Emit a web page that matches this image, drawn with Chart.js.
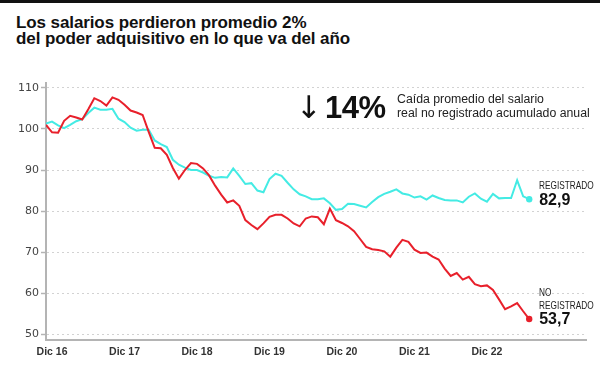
<!DOCTYPE html>
<html lang="es">
<head>
<meta charset="utf-8">
<title>Salarios</title>
<script src="https://cdn.jsdelivr.net/npm/chart.js@4.4.0/dist/chart.umd.min.js"></script>
<style>
  html, body { margin: 0; padding: 0; background: #fff; }
  #wrap { position: relative; width: 600px; height: 365px; overflow: hidden; font-family: "Liberation Sans", Arial, sans-serif; color: #111; }
  #topbar { position: absolute; left: 0; top: 0; width: 600px; height: 3px; background: #111; }
  #title { position: absolute; left: 16px; top: 15px; font-size: 17px; font-weight: bold; line-height: 16px; letter-spacing: -0.1px; }
  #chartBox { position: absolute; left: 0; top: 0; width: 600px; height: 365px; }
  #note { position: absolute; left: 298px; top: 92px; white-space: nowrap; }
  #note .arrow { position: absolute; left: -2px; top: -1px; font-family: "DejaVu Sans", sans-serif; font-size: 31px; line-height: 32px; }
  #note .big { position: absolute; left: 27px; top: 0; font-size: 31px; font-weight: bold; line-height: 32px; letter-spacing: -0.5px; }
  #note .txt { position: absolute; left: 99px; top: 1px; font-size: 12.3px; line-height: 13.5px; color: #222; }
  .endlab { position: absolute; transform: translateY(-100%); white-space: nowrap; }
  .endlab .cap { font-size: 11.5px; line-height: 12.5px; color: #222; transform: scaleX(0.72); transform-origin: left center; }
  .endlab .num { font-size: 16px; font-weight: bold; line-height: 16px; color: #111; }
</style>
</head>
<body>
<div id="wrap">
  <div id="topbar"></div>
  <div id="title">Los salarios perdieron promedio 2%<br>del poder adquisitivo en lo que va del año</div>
  <div id="chartBox"><canvas id="salaryChart"></canvas></div>
  <div id="note">
    <span class="arrow">↓</span><span class="big">14%</span>
    <span class="txt">Caída promedio del salario<br>real no registrado acumulado anual</span>
  </div>
  <div class="endlab" id="lab1"><div class="cap">REGISTRADO</div><div class="num">82,9</div></div>
  <div class="endlab" id="lab0"><div class="cap">NO</div><div class="cap">REGISTRADO</div><div class="num">53,7</div></div>
</div>
<script>
// meses nov-16 .. jul-23
const months = [
  'nov-16', 'dic-16',
  'ene-17', 'feb-17', 'mar-17', 'abr-17', 'may-17', 'jun-17', 'jul-17', 'ago-17', 'sep-17', 'oct-17', 'nov-17', 'dic-17',
  'ene-18', 'feb-18', 'mar-18', 'abr-18', 'may-18', 'jun-18', 'jul-18', 'ago-18', 'sep-18', 'oct-18', 'nov-18', 'dic-18',
  'ene-19', 'feb-19', 'mar-19', 'abr-19', 'may-19', 'jun-19', 'jul-19', 'ago-19', 'sep-19', 'oct-19', 'nov-19', 'dic-19',
  'ene-20', 'feb-20', 'mar-20', 'abr-20', 'may-20', 'jun-20', 'jul-20', 'ago-20', 'sep-20', 'oct-20', 'nov-20', 'dic-20',
  'ene-21', 'feb-21', 'mar-21', 'abr-21', 'may-21', 'jun-21', 'jul-21', 'ago-21', 'sep-21', 'oct-21', 'nov-21', 'dic-21',
  'ene-22', 'feb-22', 'mar-22', 'abr-22', 'may-22', 'jun-22', 'jul-22', 'ago-22', 'sep-22', 'oct-22', 'nov-22', 'dic-22',
  'ene-23', 'feb-23', 'mar-23', 'abr-23', 'may-23', 'jun-23', 'jul-23'
];

const noRegistrado = [
  101.0, 99.2, 99.1, 102.0, 103.2, 102.8, 102.3, 104.8, 107.5, 106.8,
  105.7, 107.7, 107.1, 105.9, 104.5, 104.0, 103.4, 99.3, 95.4, 95.3,
  93.7, 90.5, 87.9, 90.0, 91.7, 91.5, 90.4, 88.7, 86.2, 84.0,
  82.1, 82.6, 81.3, 77.8, 76.6, 75.6, 77.0, 78.6, 79.1, 79.1,
  78.2, 77.0, 76.3, 78.2, 78.7, 78.5, 76.8, 80.6, 77.8, 77.1,
  76.3, 75.1, 73.2, 71.3, 70.7, 70.5, 70.2, 68.9, 71.1, 73.0,
  72.5, 70.6, 69.8, 69.9, 68.9, 68.2, 66.0, 64.2, 64.9, 63.3,
  64.0, 62.2, 61.7, 61.9, 60.8, 58.5, 56.1, 56.8, 57.6, 55.6, 53.7
];

const registrado = [
  101.3, 101.8, 100.9, 100.2, 101.0, 101.9, 102.4, 103.9, 105.2, 104.7,
  104.7, 104.9, 102.5, 101.7, 100.3, 99.6, 99.8, 99.8, 97.2, 96.3,
  95.6, 92.5, 91.3, 90.6, 90.0, 90.0, 89.4, 88.6, 88.1, 88.3,
  88.2, 90.4, 88.6, 86.6, 86.8, 85.0, 84.6, 87.8, 89.1, 88.6,
  86.9, 85.3, 84.1, 83.6, 82.9, 82.9, 83.1, 81.9, 80.3, 80.5,
  81.8, 81.7, 81.3, 80.9, 82.2, 83.4, 84.2, 84.7, 85.3, 84.3,
  84.0, 83.3, 83.6, 82.8, 83.8, 83.2, 82.7, 82.6, 82.6, 82.1,
  83.5, 84.3, 83.0, 82.3, 84.2, 83.1, 83.2, 83.2, 87.5, 83.6, 82.9
];

const xTickLabels = ['Dic 16', 'Dic 17', 'Dic 18', 'Dic 19', 'Dic 20', 'Dic 21', 'Dic 22'];
const yTicks = [50, 60, 70, 80, 90, 100, 110];

const RED = '#e8202b';
const CYAN = '#44ebe4';
const AXIS = '#b4b4b4';

const decIdx = months.map((m, i) => m.startsWith('dic') ? i : -1).filter(i => i >= 0);
const toPoints = arr => arr.map((v, i) => ({ x: i, y: v }));
const lastIdx = months.length - 1;

// place the html end labels next to the last point of each line
const endLabels = {
  id: 'endLabels',
  afterDraw(chart) {
    chart.data.datasets.forEach((ds, i) => {
      const el = document.getElementById('lab' + i);
      const pt = chart.getDatasetMeta(i).data[lastIdx];
      if (!el || !pt) return;
      el.style.left = (pt.x + 10) + 'px';
      el.style.top = (pt.y + 8) + 'px';
    });
  }
};

function initChart() {
  const ctx = document.getElementById('salaryChart').getContext('2d');

  new Chart(ctx, {
    type: 'line',
    data: {
      datasets: [
        {
          label: 'No registrado',
          data: toPoints(noRegistrado),
          borderColor: RED,
          backgroundColor: RED,
          borderWidth: 2,
          pointRadius: c => c.dataIndex === lastIdx ? 3.2 : 0,
          pointBorderWidth: 0,
          tension: 0
        },
        {
          label: 'Registrado',
          data: toPoints(registrado),
          borderColor: CYAN,
          backgroundColor: CYAN,
          borderWidth: 2,
          pointRadius: c => c.dataIndex === lastIdx ? 3.2 : 0,
          pointBorderWidth: 0,
          tension: 0
        }
      ]
    },
    options: {
      responsive: true,
      maintainAspectRatio: false,
      animation: false,
      layout: { padding: { top: 83, right: 14, bottom: 0, left: 0 } },
      plugins: {
        legend: { display: false },
        tooltip: { enabled: false }
      },
      scales: {
        x: {
          type: 'linear',
          min: 0,
          max: 89.4,
          grid: { display: false, drawTicks: false },
          border: { display: true, color: AXIS, width: 2 },
          afterBuildTicks: scale => { scale.ticks = decIdx.map(v => ({ value: v })); },
          afterFit: scale => { scale.height = 25; },
          ticks: {
            autoSkip: false,
            maxRotation: 0,
            padding: 6,
            color: '#333',
            font: { family: "'Liberation Sans', Arial, sans-serif", size: 10.5, weight: 'bold' },
            callback: value => xTickLabels[decIdx.indexOf(value)] || ''
          }
        },
        y: {
          min: 48.6,
          max: 111.2,
          afterBuildTicks: scale => { scale.ticks = yTicks.map(v => ({ value: v })); },
          afterFit: scale => { scale.width = 46; },
          grid: {
            color: '#d2d2d2',
            lineWidth: 1,
            tickLength: 5,
            tickColor: AXIS,
            tickWidth: 1.5,
            tickBorderDash: []
          },
          border: { display: true, color: AXIS, width: 2, dash: [2, 3] },
          ticks: {
            padding: 2,
            color: '#444',
            font: { family: "'DejaVu Sans', sans-serif", size: 11 }
          }
        }
      }
    },
    plugins: [endLabels]
  });
}

document.addEventListener('DOMContentLoaded', () => {
  if (typeof Chart !== 'undefined') {
    initChart();
  } else {
    console.error('Chart.js failed to load');
  }
});
</script>
</body>
</html>
